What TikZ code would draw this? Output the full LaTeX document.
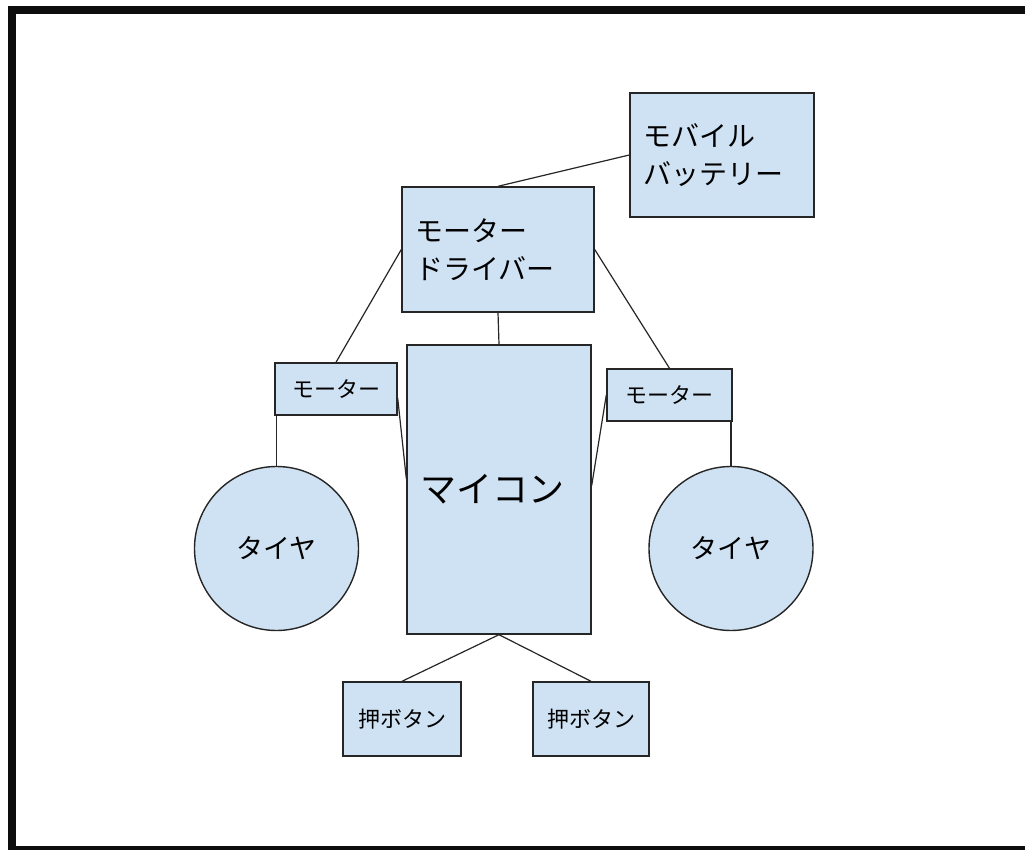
\documentclass[tikz,border=0pt]{standalone}
\usepackage{fontspec}
\setmainfont{Noto Sans CJK JP}
\definecolor{boxfill}{HTML}{CFE2F3}
\definecolor{edge}{HTML}{262626}
\begin{document}
\begin{tikzpicture}[x=1pt,y=-1pt,
  box/.style={draw=edge,line width=1.4pt,fill=boxfill,rectangle,inner sep=0pt,anchor=center},
  tire/.style={draw=edge,line width=1.4pt,fill=boxfill,circle,inner sep=0pt,minimum size=164pt,font=\fontsize{27}{32}\selectfont},
  link/.style={draw=edge,line width=1.2pt},
  bigtext/.style={font=\fontsize{28}{38}\selectfont,align=left,inner xsep=13pt,text width=#1}
]
\useasboundingbox (0,0) rectangle (1025,850);
\fill[white] (0,0) rectangle (1025,850);
% frame
\fill[black!95] (8,6) rectangle (1025,14);
\fill[black!95] (8,6) rectangle (16,850);
\fill[black!95] (8,846) rectangle (1025,850);

\node[box,minimum width=184pt,minimum height=124pt,bigtext=158pt] (batt) at (722,155) {モバイル\\バッテリー};
\node[box,minimum width=192pt,minimum height=125pt,bigtext=166pt] (drv) at (498,249.5) {モーター\\ドライバー};
\node[box,minimum width=184pt,minimum height=289pt,font=\fontsize{36}{40}\selectfont] (mcu) at (499,489.5) {\hspace*{-14pt}マイコン};
\node[box,minimum width=122pt,minimum height=52pt,font=\fontsize{22}{26}\selectfont] (lmot) at (336,389) {モーター};
\node[box,minimum width=125pt,minimum height=52pt,font=\fontsize{22}{26}\selectfont] (rmot) at (669.5,395) {モーター};
\node[tire] (ltire) at (276.5,548.5) {タイヤ};
\node[tire] (rtire) at (731,548.5) {タイヤ};
\node[box,minimum width=118pt,minimum height=74pt,font=\fontsize{22}{26}\selectfont] (btnl) at (402,719) {押ボタン};
\node[box,minimum width=116pt,minimum height=74pt,font=\fontsize{22}{26}\selectfont] (btnr) at (591,719) {押ボタン};

\draw[link] (batt.west) -- (drv.north);
\draw[link] (drv.west) -- (lmot.north);
\draw[link] (drv.east) -- (rmot.north);
\draw[link] (drv.south) -- (mcu.north);
\draw[link] ([yshift=-9pt]lmot.east) -- ([yshift=11pt]mcu.west);
\draw[link] (rmot.west) -- ([yshift=4pt]mcu.east);
\draw[link] (ltire.north |- lmot.south) -- (ltire.north);
\draw[link] (rtire.north |- rmot.south) -- (rtire.north);
\draw[link] (mcu.south) -- (btnl.north);
\draw[link] (mcu.south) -- (btnr.north);
\end{tikzpicture}
\end{document}
